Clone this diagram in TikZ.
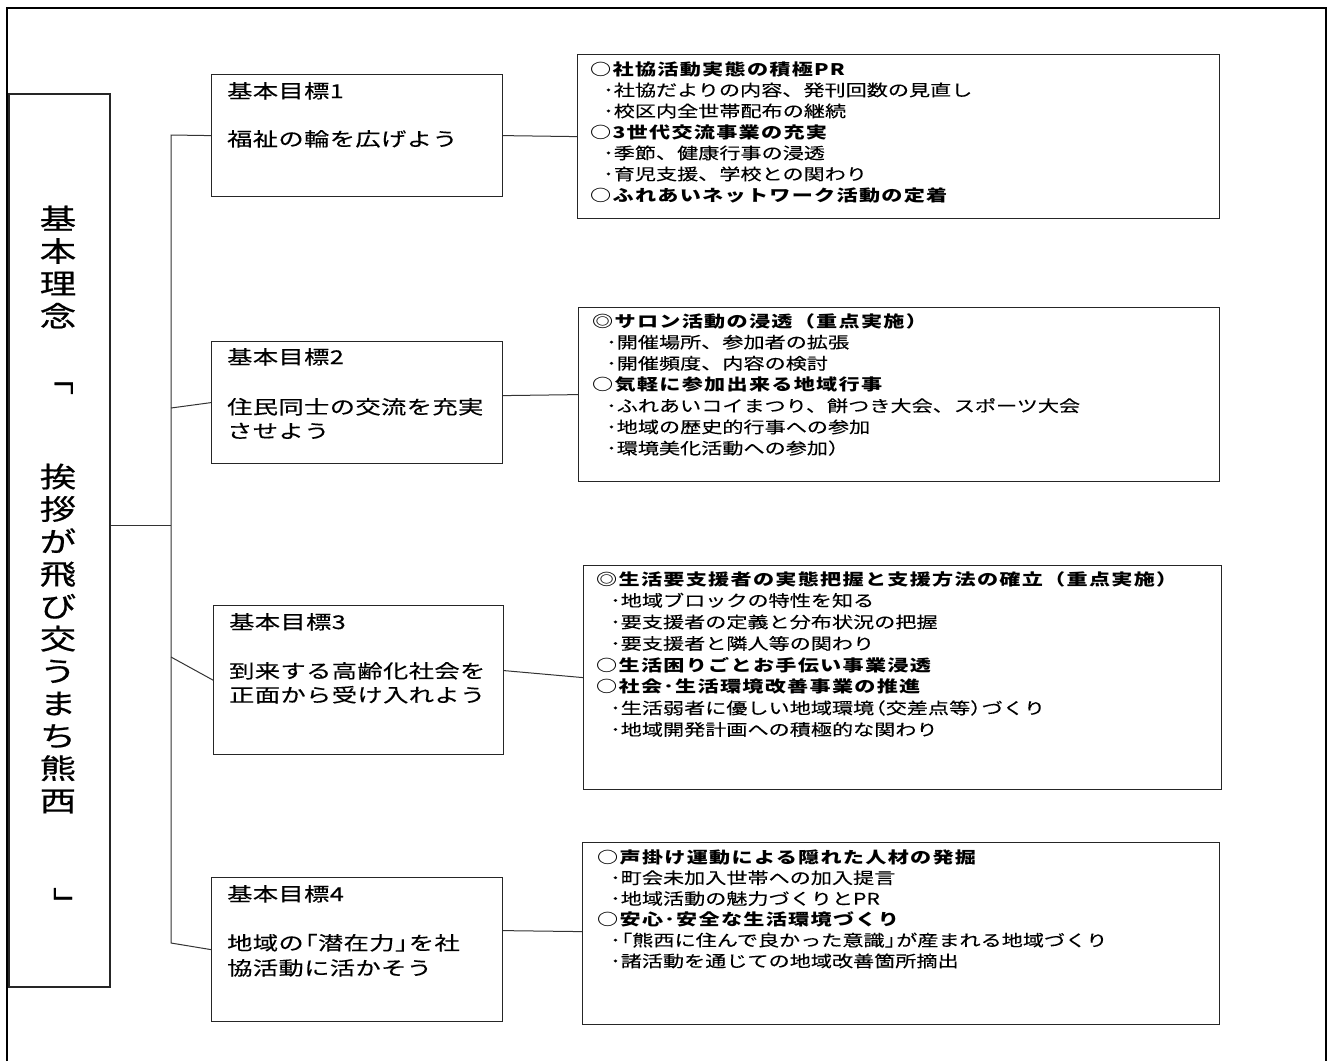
\documentclass[tikz,border=0pt]{standalone}
\usepackage{fontspec}
\usetikzlibrary{fit}
\setmainfont{Noto Sans CJK JP}
\newfontfamily\gfont[FakeStretch=1.33,LetterSpace=2,FakeBold=0.3]{Noto Sans CJK JP}
\newfontfamily\rfont[FakeStretch=1.32,FakeBold=0.2]{Noto Sans CJK JP}
\newfontfamily\hfont[FakeStretch=1.32,LetterSpace=8]{Noto Sans CJK JP}
\newfontfamily\tfont[FakeStretch=1.3,FakeBold=0.6]{Noto Sans CJK JP}
\newcommand\hd[1]{{\hfont\bfseries #1}}
\newcommand\kb{\kern-0.6em}
\tikzset{
  frame/.style={line width=2pt, draw=black},
  tbox/.style={draw=black!85, line width=1.2pt, inner sep=0pt, anchor=north west},
  conn/.style={draw=black!80, line width=1pt},
  gtext/.style={anchor=base west, inner sep=0pt, font=\gfont\fontsize{19}{24}\selectfont},
  rtext/.style={anchor=base west, inner sep=0pt, font=\rfont\fontsize{16}{21}\selectfont},
  ttext/.style={inner sep=0pt, align=center, font=\tfont\fontsize{28}{32.4}\selectfont}
}
\begin{document}
\begin{tikzpicture}[x=1pt,y=-1pt]
\useasboundingbox (0,0) rectangle (1333,1061);
\fill[white] (0,0) rectangle (1333,1061);
% outer frame (open at bottom)
\draw[frame] (7,1061) -- (7,8) -- (1326,8) -- (1326,1061);

% title box
\coordinate (Tnw) at (9,94);
\coordinate (Tse) at (110,987);
\node[draw=black!85, line width=1.2pt, inner sep=0pt, fit=(Tnw)(Tse)] (T) {};
\node[ttext] (t1) at (58,267) {基\\本\\理\\念};
\node[ttext, rotate=-90] (lb) at (61,377) {「};
\node[ttext] (t2) at (58,638.5) {挨\\拶\\が\\飛\\び\\交\\う\\ま\\ち\\熊\\西};
\node[ttext, rotate=-90] (rb) at (63,905) {」};

% goal boxes
\node[tbox, minimum width=291pt, minimum height=122pt] (g1) at (211,74) {};
\node[tbox, minimum width=291pt, minimum height=122pt] (g2) at (211,341) {};
\node[tbox, minimum width=290pt, minimum height=149pt] (g3) at (213,605) {};
\node[tbox, minimum width=291pt, minimum height=144pt] (g4) at (211,877) {};

\node[gtext] (g1a) at (227,98) {基本目標1};
\node[gtext] (g1b) at (227,146) {福祉の輪を広げよう};
\node[gtext] (g2a) at (227,364) {基本目標2};
\node[gtext] (g2b) at (227,414) {住民同士の交流を充実};
\node[gtext] (g2c) at (227,438) {させよう};
\node[gtext] (g3a) at (229,629) {基本目標3};
\node[gtext] (g3b) at (229,678) {到来する高齢化社会を};
\node[gtext] (g3c) at (229,702) {正面から受け入れよう};
\node[gtext] (g4a) at (227,901) {基本目標4};
\node[gtext] (g4b) at (227,950) {地域の\kb「潜在力」\kb を社};
\node[gtext] (g4c) at (227,975) {協活動に活かそう};

% right boxes
\node[tbox, minimum width=642pt, minimum height=164pt] (r1) at (577,54) {};
\node[tbox, minimum width=641pt, minimum height=174pt] (r2) at (578,307) {};
\node[tbox, minimum width=638pt, minimum height=224pt] (r3) at (583,565) {};
\node[tbox, minimum width=637pt, minimum height=182pt] (r4) at (582,842) {};

\foreach \dx/\t [count=\i from 0] in {
  0/{\hd{○社協活動実態の積極PR}},
  13/{･社協だよりの内容、発刊回数の見直し},
  13/{･校区内全世帯配布の継続},
  0/{\hd{○3世代交流事業の充実}},
  13/{･季節、健康行事の浸透},
  13/{･育児支援、学校との関わり},
  0/{\hd{○ふれあいネットワーク活動の定着}}}
  \node[rtext] (r1t\i) at (590+\dx, 75+21*\i) {\t};

\foreach \dx/\t [count=\i from 0] in {
  0/{\hd{◎サロン活動の浸透（重点実施）}},
  14/{･開催場所、参加者の拡張},
  14/{･開催頻度、内容の検討},
  0/{\hd{○気軽に参加出来る地域行事}},
  14/{･ふれあいコイまつり、餅つき大会、スポーツ大会},
  14/{･地域の歴史的行事への参加},
  14/{･環境美化活動への参加）}}
  \node[rtext] (r2t\i) at (592+\dx, 327+21.2*\i) {\t};

\foreach \dx/\t [count=\i from 0] in {
  0/{\hd{◎生活要支援者の実態把握と支援方法の確立（重点実施）}},
  14/{･地域ブロックの特性を知る},
  14/{･要支援者の定義と分布状況の把握},
  14/{･要支援者と隣人等の関わり},
  0/{\hd{○生活困りごとお手伝い事業浸透}},
  0/{\hd{○社会･生活環境改善事業の推進}},
  14/{･生活弱者に優しい地域環境\kb（交差点等）\kb づくり},
  14/{･地域開発計画への積極的な関わり}}
  \node[rtext] (r3t\i) at (596+\dx, 585+21.5*\i) {\t};

\foreach \dx/\t [count=\i from 0] in {
  0/{\hd{○声掛け運動による隠れた人材の発掘}},
  13/{･町会未加入世帯への加入提言},
  13/{･地域活動の魅力づくりとPR},
  0/{\hd{○安心･安全な生活環境づくり}},
  13/{･\kb「熊西に住んで良かった意識」\kb が産まれる地域づくり},
  13/{･諸活動を通じての地域改善箇所摘出}}
  \node[rtext] (r4t\i) at (597+\dx, 863+20.8*\i) {\t};

% connectors
\coordinate (s1) at (171,135);
\coordinate (s2) at (171,408);
\coordinate (sm) at (171,525);
\coordinate (s3) at (171,657);
\coordinate (s4) at (171,943);
\draw[conn] (g1.west) -- (s1) -- (s4) -- (g4.west);
\draw[conn] (s2) -- (g2.west);
\draw[conn] (s3) -- (g3.west);
\draw[conn] (sm -| T.east) -- (sm);
\draw[conn] (g1.east) -- (r1.west);
\draw[conn] ([yshift=7pt]g2.east) -- (r2.west);
\draw[conn] ([yshift=9.5pt]g3.east) -- (r3.west);
\draw[conn] ([yshift=19pt]g4.east) -- ([yshift=2pt]r4.west);
\end{tikzpicture}
\end{document}
